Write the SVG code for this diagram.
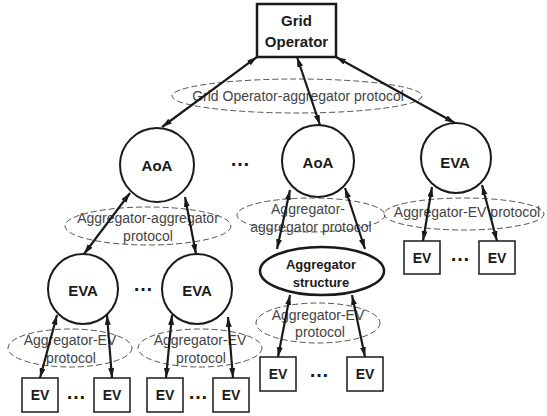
<svg xmlns="http://www.w3.org/2000/svg" width="547" height="416" viewBox="0 0 547 416">
<style>
.node{fill:#fff;stroke:#1a1a1a;stroke-width:2}
.box{fill:#fff;stroke:#1a1a1a;stroke-width:1.5}
.proto{fill:none;stroke:#555;stroke-width:1;stroke-dasharray:6,3}
.lbl{font-family:"Liberation Sans",Arial,sans-serif;font-weight:bold;fill:#1a1a1a;text-anchor:middle}
.pt{font-family:"Liberation Sans",Arial,sans-serif;font-size:14px;fill:#444;text-anchor:middle}
.dots{font-family:"Liberation Sans",Arial,sans-serif;font-weight:bold;font-size:20px;fill:#1a1a1a;text-anchor:middle}
.conn line{stroke:#1a1a1a;stroke-width:2.2;marker-start:url(#ah);marker-end:url(#ah)}
</style>
<defs>
<marker id="ah" markerUnits="userSpaceOnUse" markerWidth="11" markerHeight="7" refX="10" refY="3" orient="auto-start-reverse">
<path d="M0,0 L10,3 L0,6 z" fill="#1a1a1a"/>
</marker>
</defs>
<rect width="547" height="416" fill="#fff"/>

<g id="protocols">
<ellipse class="proto" cx="297" cy="96" rx="125" ry="17"/>
<ellipse class="proto" cx="148" cy="226" rx="83" ry="19"/>
<ellipse class="proto" cx="311" cy="215" rx="74" ry="17"/>
<ellipse class="proto" cx="464" cy="214" rx="80" ry="16"/>
<ellipse class="proto" cx="70" cy="348" rx="62" ry="19"/>
<ellipse class="proto" cx="200" cy="348" rx="62" ry="19"/>
<ellipse class="proto" cx="318" cy="323" rx="62" ry="20"/>
<text class="pt" x="298" y="101">Grid Operator-aggregator protocol</text>
<text class="pt" x="148" y="223">Aggregator-aggregator</text>
<text class="pt" x="148" y="241">protocol</text>
<text class="pt" x="308" y="214">Aggregator-</text>
<text class="pt" x="311" y="232">aggregator protocol</text>
<text class="pt" x="467" y="217">Aggregator-EV protocol</text>
<text class="pt" x="70" y="345">Aggregator-EV</text>
<text class="pt" x="71" y="363">protocol</text>
<text class="pt" x="200" y="345">Aggregator-EV</text>
<text class="pt" x="201" y="363">protocol</text>
<text class="pt" x="318" y="320">Aggregator-EV</text>
<text class="pt" x="320" y="337">protocol</text>
</g>

<g class="conn" id="connectors">
<line x1="257" y1="57" x2="162" y2="127"/>
<line x1="297" y1="57" x2="320" y2="125"/>
<line x1="336" y1="57" x2="455" y2="123"/>
<line x1="130" y1="193" x2="84" y2="254"/>
<line x1="185" y1="197" x2="196" y2="254"/>
<line x1="290" y1="190" x2="277" y2="249"/>
<line x1="345" y1="188" x2="365" y2="249"/>
<line x1="432" y1="187" x2="423" y2="241"/>
<line x1="482" y1="185" x2="497" y2="241"/>
<line x1="57" y1="315" x2="40" y2="378"/>
<line x1="107" y1="315" x2="112" y2="378"/>
<line x1="172" y1="315" x2="166" y2="378"/>
<line x1="228" y1="317" x2="233" y2="378"/>
<line x1="290" y1="295" x2="278" y2="357"/>
<line x1="352" y1="295" x2="365" y2="357"/>
</g>

<g id="grid-operator">
<rect x="257" y="4" width="79" height="53" fill="#fff" stroke="#1a1a1a" stroke-width="2.5"/>
<text class="lbl" x="296.5" y="26" font-size="15">Grid</text>
<text class="lbl" x="296.5" y="47" font-size="15">Operator</text>
</g>

<g id="aoa-left"><circle class="node" cx="157" cy="165" r="37"/><text class="lbl" x="157" y="170.5" font-size="15">AoA</text></g>
<g id="aoa-mid"><circle class="node" cx="318" cy="161" r="36"/><text class="lbl" x="318" y="168" font-size="15">AoA</text></g>
<g id="eva-right"><circle class="node" cx="456" cy="158" r="35"/><text class="lbl" x="455" y="168" font-size="15">EVA</text></g>
<g id="eva-left1"><circle class="node" cx="83" cy="289" r="35"/><text class="lbl" x="83" y="296" font-size="15">EVA</text></g>
<g id="eva-left2"><circle class="node" cx="197" cy="289" r="35"/><text class="lbl" x="197" y="296" font-size="15">EVA</text></g>
<g id="agg-structure"><ellipse cx="322" cy="271" rx="62" ry="24" fill="#fff" stroke="#1a1a1a" stroke-width="2.5"/><text class="lbl" x="321" y="269" font-size="13">Aggregator</text><text class="lbl" x="321" y="287" font-size="13">structure</text></g>

<g id="ev-r1"><rect class="box" x="404" y="241" width="36" height="33"/><text class="lbl" x="422" y="262.5" font-size="14">EV</text></g>
<g id="ev-r2"><rect class="box" x="479" y="241" width="36" height="33"/><text class="lbl" x="497" y="262.5" font-size="14">EV</text></g>
<g id="ev-m1"><rect class="box" x="260" y="357" width="36" height="34"/><text class="lbl" x="278" y="379" font-size="14">EV</text></g>
<g id="ev-m2"><rect class="box" x="347" y="357" width="36" height="34"/><text class="lbl" x="365" y="379" font-size="14">EV</text></g>
<g id="ev-l1"><rect class="box" x="22" y="378" width="36" height="34"/><text class="lbl" x="40" y="400" font-size="14">EV</text></g>
<g id="ev-l2"><rect class="box" x="94" y="378" width="36" height="34"/><text class="lbl" x="112" y="400" font-size="14">EV</text></g>
<g id="ev-l3"><rect class="box" x="147" y="378" width="36" height="34"/><text class="lbl" x="165" y="400" font-size="14">EV</text></g>
<g id="ev-l4"><rect class="box" x="213" y="378" width="36" height="34"/><text class="lbl" x="231" y="400" font-size="14">EV</text></g>

<g id="ellipsis-dots">
<text class="dots" x="240" y="166">…</text>
<text class="dots" x="143" y="291">…</text>
<text class="dots" x="76" y="399">…</text>
<text class="dots" x="198" y="399">…</text>
<text class="dots" x="319" y="377">…</text>
<text class="dots" x="460" y="261">…</text>
</g>
</svg>
